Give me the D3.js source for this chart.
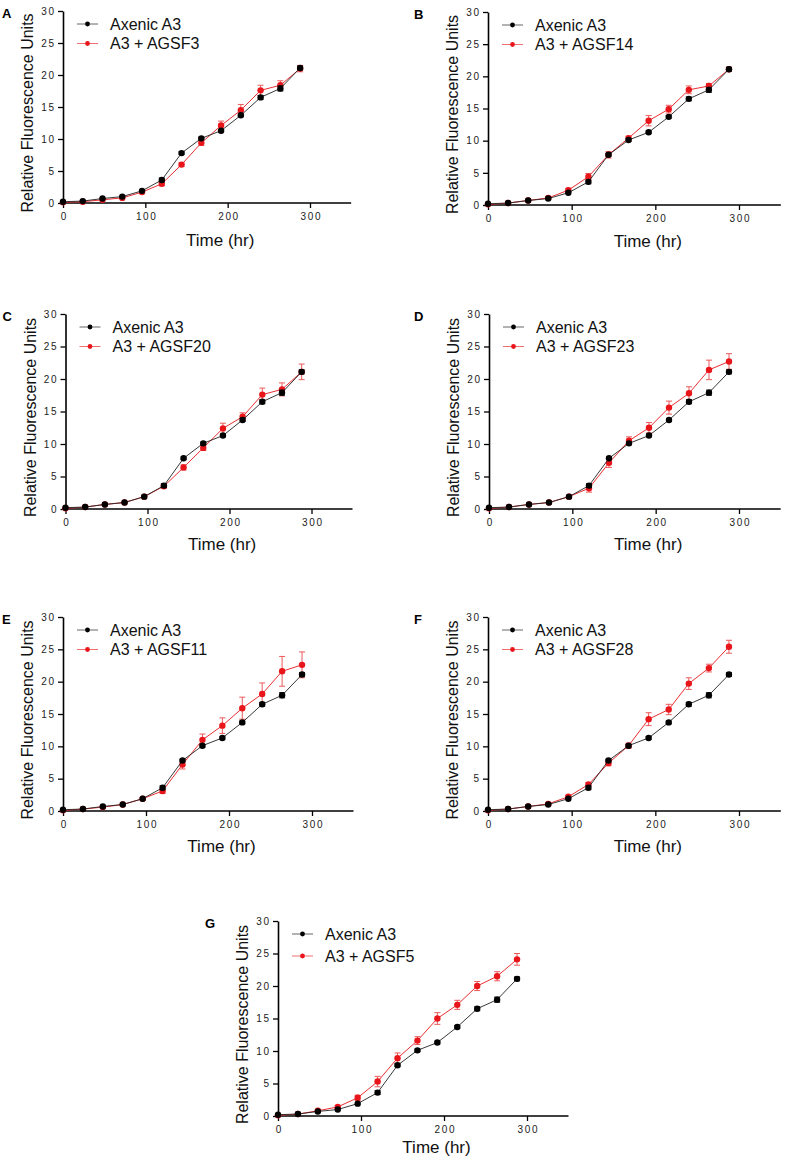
<!DOCTYPE html>
<html><head><meta charset="utf-8">
<script src="https://cdn.jsdelivr.net/npm/d3@7"></script>
<style>
html,body{margin:0;padding:0;background:#fff;}
svg text{font-family:"Liberation Sans",Arial,Helvetica,sans-serif;}
</style></head>
<body>
<svg id="chart" width="788" height="1160"></svg>
<script>
// ---- data ----
const times = [0,24,48,72,96,120,144,168,192,216,240,264,288];
const axenicName = "Axenic A3";
const axenic    = [0.2,0.3,0.7,1.0,1.9,3.6,7.8,10.1,11.3,13.7,16.5,17.9,21.1];
const axenicErr = [0.05,0.05,0.1,0.1,0.1,0.3,0.2,0.2,0.2,0.2,0.3,0.4,0.3];

const panelLetters = ["A","B","C","D","E","F","G"];
const treatNames = ["A3 + AGSF3","A3 + AGSF14","A3 + AGSF20","A3 + AGSF23","A3 + AGSF11","A3 + AGSF28","A3 + AGSF5"];

const agsf3  = [0.1,0.2,0.5,0.8,1.7,3.0,6.0,9.4,12.1,14.5,17.6,18.4,21.0];
const agsf3Err  = [0,0,0.1,0.1,0.2,0.3,0.3,0.4,0.7,0.9,0.8,0.7,0.5];
const agsf14 = [0.1,0.3,0.7,1.1,2.3,4.4,7.8,10.4,13.1,14.9,17.9,18.5,21.1];
const agsf14Err = [0,0,0.1,0.2,0.3,0.5,0.5,0.3,0.8,0.6,0.6,0.4,0.3];
const agsf20 = [0.1,0.3,0.7,1.0,1.9,3.5,6.4,9.4,12.4,14.2,17.6,18.4,21.1];
const agsf20Err = [0,0,0.1,0.1,0.2,0.3,0.4,0.4,0.8,0.6,1.0,1.0,1.2];
const agsf23 = [0.1,0.3,0.7,1.0,1.9,3.2,7.1,10.5,12.5,15.6,17.8,21.4,22.7];
const agsf23Err = [0,0,0.1,0.1,0.2,0.6,0.7,0.6,0.8,1.0,1.0,1.5,1.2];
const agsf11 = [0.1,0.3,0.6,1.0,1.9,3.1,7.2,11.0,13.2,15.9,18.1,21.6,22.6];
const agsf11Err = [0,0,0.1,0.1,0.2,0.4,0.7,0.9,1.2,1.7,1.7,2.3,2.0];
const agsf28 = [0.1,0.3,0.7,1.1,2.2,4.1,7.4,10.1,14.2,15.7,19.7,22.1,25.4];
const agsf28Err = [0,0,0.1,0.2,0.2,0.3,0.4,0.4,1.0,0.8,0.9,0.6,1.0];
const agsf5  = [0.1,0.3,0.8,1.4,2.8,5.3,8.9,11.6,15.0,17.1,20.0,21.5,24.1];
const agsf5Err  = [0,0,0.1,0.2,0.4,0.8,0.8,0.6,0.9,0.7,0.7,0.7,0.9];

const treatValues = [agsf3,agsf14,agsf20,agsf23,agsf11,agsf28,agsf5];
const treatErrors = [agsf3Err,agsf14Err,agsf20Err,agsf23Err,agsf11Err,agsf28Err,agsf5Err];

const xTicks = [0,100,200,300];
const yTicks = [0,5,10,15,20,25,30];
const xLabel = "Time (hr)";
const yLabel = "Relative Fluorescence Units";

// ---- layout (pixel positions of each panel's axes) ----
const layout = [
  {x0:63,  w300:247, y0:203,  h:192, tOff:43, lx:-61},
  {x0:488, w300:251, y0:205,  h:193, tOff:42, lx:-74},
  {x0:65.5,w300:246, y0:509,  h:195, tOff:41, lx:-63},
  {x0:489, w300:250, y0:509,  h:195, tOff:41, lx:-75},
  {x0:63,  w300:249, y0:811,  h:194, tOff:41, lx:-61},
  {x0:488, w300:251, y0:811,  h:194, tOff:41, lx:-74},
  {x0:278, w300:249, y0:1116, h:195, tOff:37, lx:-73}
];

const RED = "#e8161b", RED_ERR = "#ec5a5a", BLACK = "#000";
const svg = d3.select("#chart");

layout.forEach((L, i) => {
  const x = d3.scaleLinear().domain([0,300]).range([L.x0, L.x0 + L.w300]);
  const y = d3.scaleLinear().domain([0,30]).range([L.y0, L.y0 - L.h]);
  const g = svg.append("g");

  // axes
  const xAxis = d3.axisBottom(x).tickValues(xTicks).tickSize(5).tickSizeOuter(0).tickPadding(5);
  const xg = g.append("g").attr("transform", `translate(0,${L.y0})`).call(xAxis);
  xg.select(".domain").attr("d", `M${x(0)},0H${x(350)}`);
  const yAxis = d3.axisLeft(y).tickValues(yTicks).tickSize(5).tickSizeOuter(0).tickPadding(4);
  const yg = g.append("g").attr("transform", `translate(${L.x0},0)`).call(yAxis);
  [xg, yg].forEach(a => {
    a.select(".domain").attr("stroke","#000").attr("stroke-width",1.6);
    a.selectAll(".tick line").attr("stroke","#000").attr("stroke-width",1.3);
    a.selectAll(".tick text").attr("font-size",10).attr("fill","#222")
      .attr("letter-spacing","1.6px").attr("font-family","'Liberation Sans',Arial,sans-serif");
  });
  xg.selectAll(".tick text").attr("dx","0.8");
  yg.selectAll(".tick text").attr("dx","1.6");

  // axis titles
  g.append("text").attr("x", x(191)).attr("y", L.y0 + L.tOff)
    .attr("text-anchor","middle").attr("font-size",17).attr("fill","#111").text(xLabel);
  g.append("text")
    .attr("transform", `translate(${L.x0 - 30},${L.y0 - L.h/2 + 6}) rotate(-90)`)
    .attr("text-anchor","middle").attr("font-size",16).attr("fill","#111").text(yLabel);

  // panel letter
  g.append("text").attr("x", L.x0 + L.lx)
    .attr("y", L.y0 - L.h + 7).attr("font-size",13).attr("font-weight","bold").text(panelLetters[i]);

  const line = d3.line().x(d => x(d.t)).y(d => y(d.v));
  const series = [
    {vals: treatValues[i], errs: treatErrors[i], color: RED, lineColor: RED, errColor: RED_ERR},
    {vals: axenic, errs: axenicErr, color: BLACK, lineColor: "#222", errColor: "#222"}
  ];
  series.forEach(s => {
    const data = times.map((t, k) => ({t, v: s.vals[k], e: s.errs[k]}));
    g.append("path").datum(data).attr("d", line).attr("fill","none")
      .attr("stroke", s.lineColor).attr("stroke-width", 0.9);
    const eb = g.append("g").attr("stroke", s.errColor).attr("stroke-width", 1);
    data.filter(d => d.e > 0.15).forEach(d => {
      const cx = x(d.t), top = y(d.v + d.e), bot = y(d.v - d.e);
      eb.append("line").attr("x1",cx).attr("x2",cx).attr("y1",top).attr("y2",bot);
      eb.append("line").attr("x1",cx-3).attr("x2",cx+3).attr("y1",top).attr("y2",top);
      eb.append("line").attr("x1",cx-3).attr("x2",cx+3).attr("y1",bot).attr("y2",bot);
    });
    g.append("g").selectAll("circle").data(data).join("circle")
      .attr("cx", d => x(d.t)).attr("cy", d => y(d.v)).attr("r", 3.2).attr("fill", s.color);
  });

  // legend
  const legendItems = [
    {name: axenicName, color: BLACK, lineColor: "#666"},
    {name: treatNames[i], color: RED, lineColor: "#f07070"}
  ];
  const lx = L.x0 + 14, ly = L.y0 - L.h + 13, gap = (i===6 ? 22 : 19.5);
  legendItems.forEach((it, k) => {
    const yy = ly + k*gap;
    g.append("line").attr("x1", lx).attr("x2", lx + 21).attr("y1", yy).attr("y2", yy)
      .attr("stroke", it.lineColor).attr("stroke-width", 1);
    g.append("circle").attr("cx", lx + 10.5).attr("cy", yy).attr("r", 2.4).attr("fill", it.color);
    g.append("text").attr("x", lx + 33).attr("y", yy + 5.7).attr("font-size",16)
      .attr("fill","#111").text(it.name);
  });
});
</script>
</body></html>
